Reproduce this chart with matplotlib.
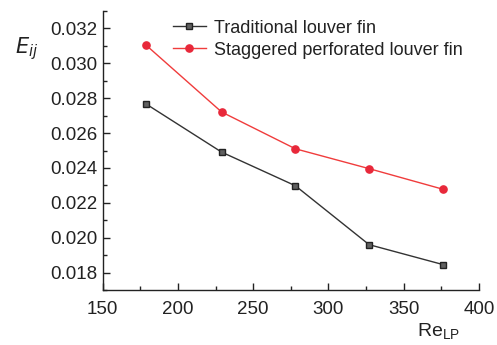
import matplotlib
matplotlib.use("Agg")
import matplotlib.pyplot as plt
from matplotlib.ticker import MultipleLocator, FormatStrFormatter

plt.rcParams['font.family'] = ['Liberation Sans', 'DejaVu Sans']

re_lp = [179, 229, 278, 327, 376]
traditional = [0.02766, 0.02491, 0.02298, 0.01960, 0.01846]
staggered = [0.03103, 0.02721, 0.02510, 0.02396, 0.02278]
labels = ["Traditional louver fin", "Staggered perforated louver fin"]

fig = plt.figure(figsize=(4.97, 3.45), dpi=100)
ax = fig.add_axes([0.2066, 0.1594, 0.7572, 0.8086])

ax.plot(re_lp, traditional, color='#333333', lw=1.0, marker='s', ms=4.8,
        mfc='#606060', mec='#222222', mew=1.0, label=labels[0])
ax.plot(re_lp, staggered, color='#f03c3c', lw=1.0, marker='o', ms=5.2,
        mfc='#e8283a', mec='#e8283a', label=labels[1])

ax.set_xlim(150, 400)
ax.set_ylim(0.017, 0.033)
ax.xaxis.set_major_locator(MultipleLocator(50))
ax.xaxis.set_minor_locator(MultipleLocator(25))
ax.yaxis.set_major_locator(MultipleLocator(0.002))
ax.yaxis.set_minor_locator(MultipleLocator(0.001))
ax.yaxis.set_major_formatter(FormatStrFormatter('%.3f'))

for s in ['top', 'right']:
    ax.spines[s].set_visible(False)
for s in ['left', 'bottom']:
    ax.spines[s].set_color('#222222')
    ax.spines[s].set_linewidth(1.0)

ax.tick_params(which='both', direction='in', color='#222222', width=1.0,
               labelsize=13.5, labelcolor='#222222')
ax.tick_params(which='major', length=5)
ax.tick_params(which='minor', length=3)
ax.tick_params(axis='x', pad=8)

fig.text(0.03, 0.86, r'$E_{ij}$', fontsize=15, color='#222222', ha='left', va='center')
fig.text(0.84, 0.04, r'$\mathregular{Re_{LP}}$', fontsize=14, color='#222222', ha='left', va='center')

ax.legend(loc='upper left', bbox_to_anchor=(0.168, 0.995), frameon=False,
          fontsize=13, handlelength=1.8, handletextpad=0.45, labelspacing=0.28,
          borderaxespad=0, labelcolor='#222222')

fig.savefig('out.png', dpi=100)
